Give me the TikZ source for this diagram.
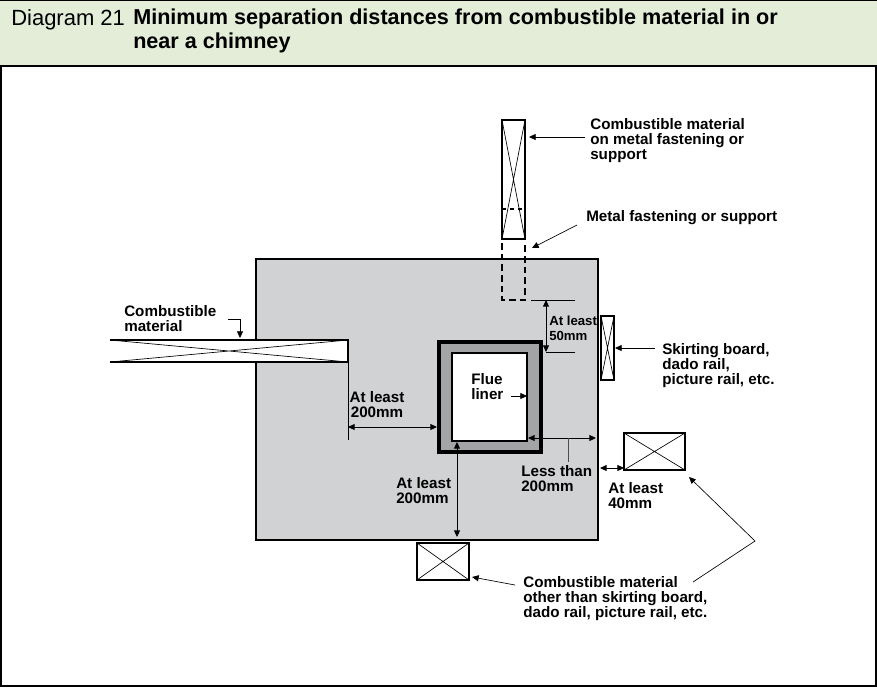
\documentclass[tikz,border=0pt]{standalone}
\usepackage{fontspec}
\setmainfont{Liberation Sans}
\usetikzlibrary{arrows.meta}
\definecolor{band}{HTML}{E3EDD8}
\definecolor{chim}{HTML}{D1D2D4}
\definecolor{flue}{HTML}{A3A4A6}
\begin{document}
\begin{tikzpicture}[x=0.75pt,y=-0.75pt,
  lbl/.style={font=\bfseries\fontsize{11.4}{11.2}\selectfont,align=left,inner sep=0pt,anchor=north west},
  arr/.style={-{Triangle[length=5pt,width=4.5pt]},line width=0.6pt},
  darr/.style={{Triangle[length=5pt,width=4.5pt]}-{Triangle[length=5pt,width=4.5pt]},line width=0.7pt},
  thin/.style={line width=0.5pt},
  box/.style={draw,line width=0.9pt,fill=white}]
\useasboundingbox (0,0) rectangle (877,687);
% title band and frame
\fill[band] (0,0) rectangle (877,66);
\draw[line width=0.8pt] (0,0.5) -- (877,0.5);
\draw[line width=1pt] (1,66) rectangle (876,686);
\node[inner sep=0pt,anchor=north west] (tnum) at (11,9) {\fontsize{16.5}{18}\selectfont Diagram 21};
\node[inner sep=0pt,anchor=north west,align=left,font=\bfseries\fontsize{16.2}{18}\selectfont] (title) at (133,9)
 {Minimum separation distances from combustible material in or\\near a chimney};
% chimney
\draw[fill=chim,line width=0.9pt] (256,259) rectangle (598,540);
\draw[fill=flue,line width=2.5pt] (439,342) rectangle (541,452);
\draw[fill=white,line width=0.9pt] (452,353) rectangle (527,441);
% beam
\fill[white] (110,340) rectangle (348,362);
\draw[line width=0.9pt] (110,340) -- (348,340) -- (348,362) -- (110,362);
\draw[thin] (110,340) -- (348,362) (110,362) -- (348,340);
% top timber and support
\draw[box] (502,120) rectangle (525,239);
\draw[thin] (502,120) -- (525,239) (525,120) -- (502,239);
\draw[dashed,line width=0.9pt] (502,209) -- (525,209);
\draw[dashed,line width=0.9pt,dash pattern=on 5pt off 3pt] (502,243) -- (502,300) -- (525,300) -- (525,243);
% skirting
\draw[box] (601,316) rectangle (614,380);
\draw[thin] (601,316) -- (614,380) (614,316) -- (601,380);
% right box
\draw[box] (624,433) rectangle (685,470);
\draw[thin] (624,433) -- (685,470) (685,433) -- (624,470);
% bottom box
\draw[box] (417,543) rectangle (469,580);
\draw[thin] (417,543) -- (469,580) (469,543) -- (417,580);
% labels
\node[lbl] (l1) at (590,118) {Combustible material\\on metal fastening or\\support};
\coordinate (a1s) at (585,137); \coordinate (a1e) at (529,137);
\draw[arr] (a1s) -- (a1e);
\node[lbl] (l2) at (586,210) {Metal fastening or support};
\coordinate (a2s) at (577,225); \coordinate (a2e) at (532,248);
\draw[arr,thin] (a2s) -- (a2e);
\node[lbl] (l3) at (124,305) {Combustible\\material};
\coordinate (a3s) at (228,319); \coordinate (a3m) at (240,319); \coordinate (a3e) at (240,338);
\draw[arr,thin] (a3s) -- (a3m) -- (a3e);
% 50mm
\draw[thin] (531,300) -- (575,300) (546,352) -- (575,352);
\coordinate (d1a) at (546,300); \coordinate (d1b) at (546,352);
\draw[darr] (d1a) -- (d1b);
\node[lbl,font=\bfseries\fontsize{9.9}{11}\selectfont] (l4) at (549,316) {At least\\50mm};
\node[lbl] (l5) at (662,343) {Skirting board,\\dado rail,\\picture rail, etc.};
\coordinate (a5s) at (655,348); \coordinate (a5e) at (615,348);
\draw[arr] (a5s) -- (a5e);
% flue liner
\node[lbl] (l6) at (471,373) {Flue\\liner};
\coordinate (a6s) at (511,396); \coordinate (a6e) at (527,396);
\draw[arr] (a6s) -- (a6e);
% 200mm left
\draw[thin] (348,362) -- (348,440);
\coordinate (d2a) at (348,427); \coordinate (d2b) at (437,427);
\draw[darr] (d2a) -- (d2b);
\node[lbl,align=center,anchor=north] (l7) at (377,391) {At least\\200mm};
% less than 200
\coordinate (d3a) at (528,438); \coordinate (d3b) at (596,438);
\draw[darr] (d3a) -- (d3b);
\draw[line width=0.7pt,gray!60!black] (568,438) -- (568,462);
\node[lbl] (l8) at (521,465) {Less than\\200mm};
% bottom 200
\coordinate (d4a) at (457,442); \coordinate (d4b) at (457,537);
\draw[darr] (d4a) -- (d4b);
\node[lbl] (l9) at (396,477) {At least\\200mm};
% 40mm
\coordinate (d5a) at (600,468); \coordinate (d5b) at (624,468);
\draw[darr] (d5a) -- (d5b);
\node[lbl] (l10) at (608,482) {At least\\40mm};
% bottom label
\node[lbl] (l11) at (523,576) {Combustible material\\other than skirting board,\\dado rail, picture rail, etc.};
\coordinate (a7s) at (515,585); \coordinate (a7e) at (472,577);
\draw[arr,thin] (a7s) -- (a7e);
\coordinate (a8s) at (693,582); \coordinate (a8m) at (755,541); \coordinate (a8e) at (689,477);
\draw[arr,thin] (a8s) -- (a8m) -- (a8e);
\end{tikzpicture}
\end{document}
